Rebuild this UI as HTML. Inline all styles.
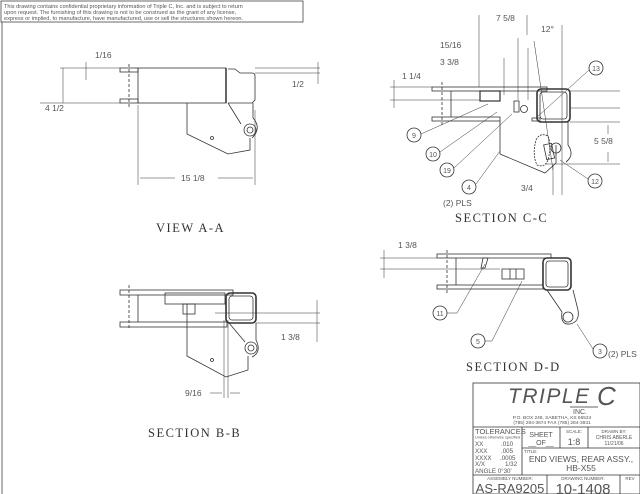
<!DOCTYPE html>
<html><head><style>
html,body{margin:0;padding:0;background:#fff;width:640px;height:494px;overflow:hidden}
svg{display:block}
text{font-family:"Liberation Sans",sans-serif;fill:#555}
.s{font-family:"Liberation Serif",serif;fill:#333}
</style></head><body>
<svg width="640" height="494" viewBox="0 0 640 494" xmlns="http://www.w3.org/2000/svg">
<g fill="none" stroke="#444" stroke-width="0.8">
<line x1="2" y1="22" x2="2" y2="494"/>
<rect x="1" y="1" width="302" height="21"/>
</g>
<text x="4" y="8" font-size="5.6">This drawing contains confidential proprietary information of Triple C, Inc. and is subject to return</text>
<text x="4" y="14" font-size="5.6">upon request.  The furnishing of this drawing is not to be construed as the grant of any license,</text>
<text x="4" y="20" font-size="5.6">express or implied, to manufacture, have manufactured, use or sell the structures shown hereon.</text>

<g fill="none" stroke="#333" stroke-width="0.8">
<!-- VIEW A-A -->
<rect x="120" y="68" width="18" height="4"/>
<rect x="120" y="99" width="18" height="4"/>
<line x1="129" y1="64" x2="129" y2="108" stroke-dasharray="3,2"/>
<rect x="138" y="68" width="88" height="35"/>
<line x1="226" y1="68" x2="226" y2="103" stroke-width="1.5"/>
<path d="M228 69 H235 L240 73 H252 Q255 73 255 76 V100 L252 103 H228"/>
<path d="M187 103 V134 L228 154 L250 150 V138"/>
<path d="M228 103 L241 124"/>
<path d="M253 103 V118 Q262 128 252 138"/>
<circle cx="250" cy="130" r="6"/><circle cx="250" cy="130" r="3"/>
<circle cx="212" cy="138" r="1.5"/>
<line x1="60" y1="68" x2="120" y2="68" stroke-width="0.5"/>
<line x1="40" y1="103" x2="120" y2="103" stroke-width="0.5"/>
<line x1="63" y1="68" x2="63" y2="103" stroke-width="0.5"/>
<line x1="86" y1="62" x2="86" y2="80" stroke-width="0.5"/>
<line x1="255" y1="68" x2="320" y2="68" stroke-width="0.5"/>
<line x1="255" y1="73" x2="320" y2="73" stroke-width="0.5"/>
<line x1="318" y1="62" x2="318" y2="84" stroke-width="0.5"/>
<line x1="138" y1="105" x2="138" y2="185" stroke-width="0.5"/>
<line x1="255" y1="110" x2="255" y2="185" stroke-width="0.5"/>
<line x1="140" y1="178" x2="175" y2="178" stroke-width="0.5"/>
<line x1="218" y1="178" x2="253" y2="178" stroke-width="0.5"/>

<!-- SECTION C-C -->
<rect x="432" y="87" width="115" height="4"/>
<rect x="432" y="117" width="68" height="4"/>
<line x1="442" y1="82" x2="442" y2="126" stroke-dasharray="3,2"/>
<line x1="451" y1="91" x2="451" y2="117"/>
<rect x="480" y="91" width="20" height="10" stroke-width="1.2"/>
<rect x="537" y="89" width="33" height="33" rx="4" stroke-width="1.6"/>
<rect x="540" y="92" width="27" height="27" rx="3"/>
<path d="M500 121 V154 L545 173 L556 163 V145"/>
<path d="M568 122 V145 Q575 155 566 162"/>
<circle cx="556" cy="148" r="5"/>
<path d="M536 140 Q540 132 548 136 Q552 145 548 160 Q545 168 537 165 Q532 155 536 140" stroke-dasharray="2,1"/>
<rect x="545" y="144" width="8" height="15" transform="rotate(-12 549 151)"/>
<rect x="514" y="101" width="5" height="11"/>
<circle cx="524" cy="109" r="3.5"/>
<rect x="532" y="118" width="8" height="3"/>
<line x1="534" y1="41" x2="553" y2="170" stroke-width="0.5"/>
<line x1="562" y1="25" x2="562" y2="195" stroke-width="0.5"/>
<line x1="479" y1="15" x2="479" y2="87" stroke-width="0.5"/>
<line x1="527" y1="15" x2="527" y2="35" stroke-width="0.5"/>
<line x1="518" y1="38" x2="518" y2="100" stroke-width="0.5"/>
<line x1="528" y1="48" x2="528" y2="100" stroke-width="0.5"/>
<line x1="504" y1="58" x2="504" y2="95" stroke-width="0.5"/>
<line x1="390" y1="87" x2="432" y2="87" stroke-width="0.5"/>
<line x1="390" y1="100" x2="480" y2="100" stroke-width="0.5"/>
<line x1="394" y1="80" x2="394" y2="108" stroke-width="0.5"/>
<line x1="570" y1="91" x2="620" y2="91" stroke-width="0.5"/>
<line x1="570" y1="108" x2="620" y2="108" stroke-width="0.5"/>
<line x1="570" y1="122" x2="620" y2="122" stroke-width="0.5"/>
<line x1="545" y1="164" x2="620" y2="164" stroke-width="0.5"/>
<line x1="608" y1="125" x2="608" y2="134" stroke-width="0.5"/>
<line x1="608" y1="152" x2="608" y2="162" stroke-width="0.5"/>
<line x1="553" y1="165" x2="553" y2="195" stroke-width="0.5"/>
<circle cx="414" cy="135" r="7"/><line x1="421" y1="134" x2="488" y2="104" stroke-width="0.5"/>
<circle cx="433" cy="154" r="7"/><line x1="440" y1="152" x2="497" y2="112" stroke-width="0.5"/>
<circle cx="447" cy="170" r="7"/><line x1="454" y1="168" x2="512" y2="114" stroke-width="0.5"/>
<circle cx="469" cy="187" r="7"/><line x1="476" y1="184" x2="500" y2="151" stroke-width="0.5"/>
<circle cx="596" cy="68" r="7"/><line x1="589" y1="70" x2="536" y2="118" stroke-width="0.5"/>
<circle cx="595" cy="181" r="7"/><line x1="588" y1="179" x2="560" y2="160" stroke-width="0.5"/>

<!-- SECTION D-D -->
<rect x="437" y="254" width="114" height="4"/>
<rect x="437" y="285" width="106" height="4"/>
<line x1="447" y1="250" x2="447" y2="294" stroke-dasharray="3,2"/>
<line x1="456" y1="258" x2="456" y2="285"/>
<path d="M483 258 H488 L485 268 H481 Z"/>
<rect x="502" y="269" width="22" height="10"/>
<line x1="510" y1="269" x2="510" y2="279"/><line x1="516" y1="269" x2="516" y2="279"/>
<rect x="543" y="258" width="28" height="32" rx="4" stroke-width="1.6"/>
<rect x="546" y="261" width="22" height="26" rx="3"/>
<path d="M547 290 L562 312 Q560 325 570 324 Q580 322 578 310 L573 290"/>
<circle cx="568" cy="317" r="5"/>
<line x1="380" y1="258" x2="437" y2="258" stroke-width="0.5"/>
<line x1="380" y1="269" x2="500" y2="269" stroke-width="0.5"/>
<line x1="384" y1="250" x2="384" y2="278" stroke-width="0.5"/>
<circle cx="440" cy="313" r="7"/><line x1="447" y1="313" x2="457" y2="313" stroke-width="0.5"/><line x1="457" y1="313" x2="485" y2="264" stroke-width="0.5"/>
<circle cx="478" cy="341" r="7"/><line x1="485" y1="341" x2="492" y2="341" stroke-width="0.5"/><line x1="492" y1="341" x2="522" y2="281" stroke-width="0.5"/>
<circle cx="600" cy="351" r="7"/><line x1="593" y1="349" x2="577" y2="324" stroke-width="0.5"/>

<!-- SECTION B-B -->
<rect x="120" y="290" width="113" height="5"/>
<rect x="120" y="322" width="107" height="5"/>
<line x1="129" y1="285" x2="129" y2="330" stroke-dasharray="3,2"/>
<line x1="138" y1="295" x2="138" y2="322"/>
<rect x="165" y="293" width="60" height="11"/>
<rect x="183" y="304" width="12" height="10"/>
<rect x="226" y="293" width="30" height="30" rx="4" stroke-width="1.6"/>
<rect x="229" y="296" width="24" height="24" rx="3"/>
<path d="M187 304 V356 L226 377 L248 370 V356"/>
<path d="M229 323 L245 342"/>
<path d="M256 323 V340 Q262 352 252 357"/>
<circle cx="251" cy="348" r="6"/><circle cx="251" cy="348" r="3"/>
<circle cx="212" cy="360" r="1.5"/>
<line x1="215" y1="313" x2="320" y2="313" stroke-width="0.5"/>
<line x1="256" y1="323" x2="320" y2="323" stroke-width="0.5"/>
<line x1="317" y1="300" x2="317" y2="342" stroke-width="0.5"/>
<line x1="224" y1="320" x2="224" y2="398" stroke-width="0.5"/>
<line x1="228" y1="320" x2="228" y2="398" stroke-width="0.5"/>
<line x1="210" y1="393" x2="222" y2="393" stroke-width="0.5"/>
<line x1="230" y1="393" x2="240" y2="393" stroke-width="0.5"/>

<!-- title block -->
<rect x="473" y="383" width="167" height="111"/>
<line x1="473" y1="427" x2="640" y2="427"/>
<line x1="522" y1="427" x2="522" y2="475"/>
<line x1="560" y1="427" x2="560" y2="448"/>
<line x1="588" y1="427" x2="588" y2="448"/>
<line x1="522" y1="448" x2="640" y2="448"/>
<line x1="473" y1="475" x2="640" y2="475"/>
<line x1="547" y1="475" x2="547" y2="494"/>
<line x1="620" y1="475" x2="620" y2="494"/>
<line x1="570" y1="407" x2="598" y2="407"/>
</g>

<g font-size="8.5">
<text x="95" y="58">1/16</text>
<text x="45" y="111">4 1/2</text>
<text x="292" y="87">1/2</text>
<text x="181" y="181">15 1/8</text>
<text x="496" y="21">7 5/8</text>
<text x="541" y="32">12°</text>
<text x="440" y="48">15/16</text>
<text x="440" y="65">3 3/8</text>
<text x="402" y="79">1 1/4</text>
<text x="594" y="144">5 5/8</text>
<text x="521" y="191">3/4</text>
<text x="443" y="206">(2) PLS</text>
<text x="398" y="248">1 3/8</text>
<text x="608" y="357">(2) PLS</text>
<text x="281" y="340">1 3/8</text>
<text x="185" y="396">9/16</text>
</g>
<g font-size="7" text-anchor="middle">
<text x="414" y="138">9</text><text x="433" y="157">10</text><text x="447" y="173">19</text>
<text x="469" y="190">4</text><text x="596" y="71">13</text><text x="595" y="184">12</text>
<text x="440" y="316">11</text><text x="478" y="344">5</text><text x="600" y="354">3</text>
</g>
<text class="s" x="156" y="232" font-size="12.5" letter-spacing="1.5">VIEW A-A</text>
<text class="s" x="455" y="222" font-size="12.5" letter-spacing="1.5">SECTION C-C</text>
<text class="s" x="466" y="371" font-size="12.5" letter-spacing="1.5">SECTION D-D</text>
<text class="s" x="148" y="437" font-size="12.5" letter-spacing="1.5">SECTION B-B</text>

<text x="508" y="403" font-size="21" font-style="italic" fill="#333" letter-spacing="1.5">TRIPLE</text>
<text x="597" y="405" font-size="26" font-style="italic" fill="#333">C</text>
<text x="573" y="414" font-size="7" fill="#333">INC.</text>
<text x="552" y="419" font-size="4.8" text-anchor="middle">P.O. BOX 248,  SABETHA, KS 66534</text>
<text x="552" y="424" font-size="4.8" text-anchor="middle">(785) 284-3674   FAX (785) 284-3931</text>
<text x="475" y="434" font-size="7.5" fill="#333">TOLERANCES</text>
<text x="475" y="438.5" font-size="3.8">Unless otherwise specified</text>
<g font-size="6.2">
<text x="475" y="446">XX</text><text x="501" y="446">.010</text>
<text x="475" y="453">XXX</text><text x="501" y="453">.005</text>
<text x="475" y="460">XXXX</text><text x="500" y="460">.0005</text>
<text x="475" y="466">X/X</text><text x="505" y="466">1/32</text>
<text x="475" y="473">ANGLE 0°30'</text>
</g>
<text x="541" y="437" font-size="7" text-anchor="middle">SHEET</text>
<text x="541" y="445" font-size="7" text-anchor="middle">__OF__</text>
<text x="574" y="433" font-size="4.5" text-anchor="middle">SCALE:</text>
<text x="574" y="445" font-size="9" text-anchor="middle">1:8</text>
<text x="614" y="433" font-size="4.5" text-anchor="middle">DRAWN BY:</text>
<text x="614" y="439" font-size="5" text-anchor="middle">CHRIS ABERLE</text>
<text x="614" y="445" font-size="5" text-anchor="middle">11/21/06</text>
<text x="524" y="453" font-size="4.5">TITLE:</text>
<text x="581" y="462" font-size="8.5" text-anchor="middle">END VIEWS, REAR ASSY.,</text>
<text x="581" y="471" font-size="8.5" text-anchor="middle">HB-X55</text>
<text x="510" y="480" font-size="4.5" text-anchor="middle">ASSEMBLY NUMBER:</text>
<text x="510" y="493" font-size="13" text-anchor="middle">AS-RA9205</text>
<text x="583" y="480" font-size="4.5" text-anchor="middle">DRAWING NUMBER:</text>
<text x="583" y="494" font-size="15" text-anchor="middle">10-1408</text>
<text x="630" y="480" font-size="4.5" text-anchor="middle">REV</text>
</svg>
</body></html>
